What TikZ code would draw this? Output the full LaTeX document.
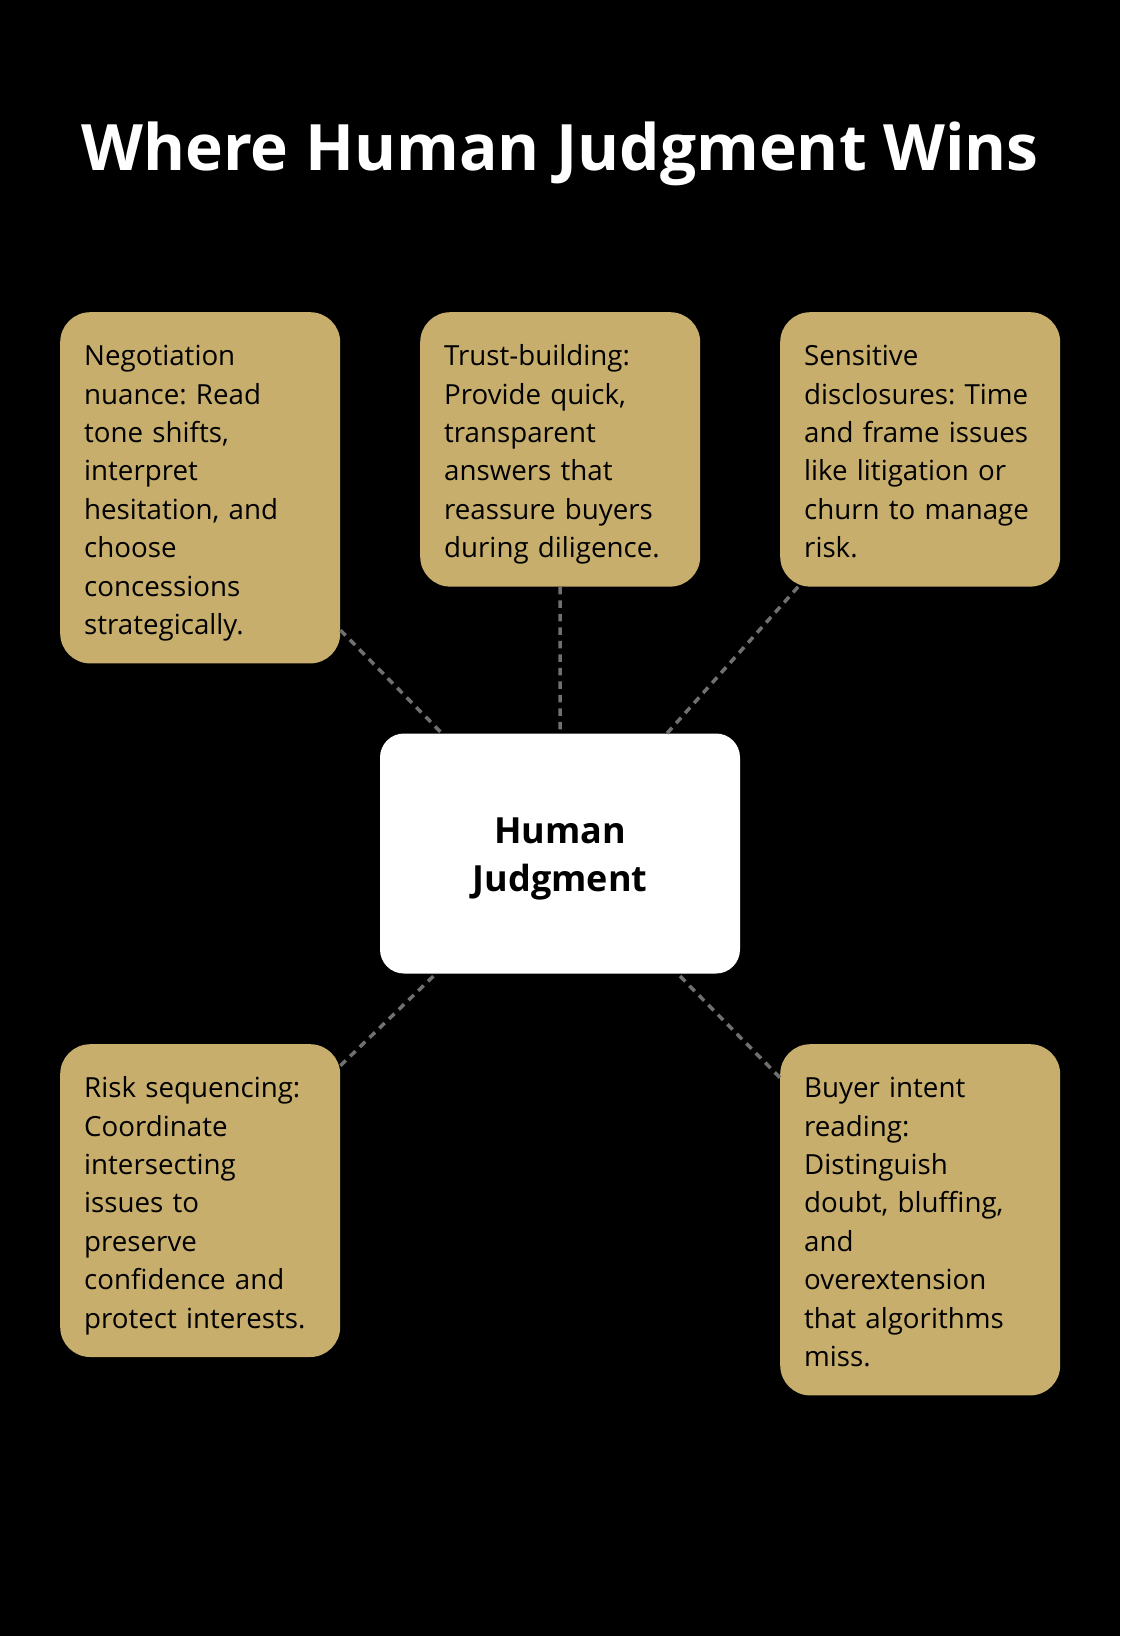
\documentclass[tikz,border=0pt]{standalone}
\usepackage{fontspec}
\setmainfont{Open Sans}
\frenchspacing
\definecolor{gold}{RGB}{199,174,108}
\definecolor{dashgray}{RGB}{112,112,112}
\newcommand\bs{\rule[-7pt]{0pt}{38.4pt}}
\newcommand\hs{\rule[-10pt]{0pt}{48pt}}
\lineskiplimit=-100pt
\lineskip=0pt
\begin{document}
\begin{tikzpicture}[x=1pt,y=-1pt,
  card/.style={fill=gold, rounded corners=30pt, anchor=north west, text width=232pt,
    inner xsep=24pt, inner ysep=22pt, align=left,
    font=\fontsize{27.7pt}{38.4pt}\selectfont, text=black},
  hub/.style={fill=white, rounded corners=24pt, minimum width=360pt, minimum height=240pt,
    align=center, font=\fontsize{36pt}{48pt}\selectfont\bfseries, text=black},
  link/.style={draw=dashgray, line width=3.5pt, dash pattern=on 7.5pt off 6pt}]
\fill[black] (0,0) rectangle (1120,1636);
\useasboundingbox (0,0) rectangle (1120,1636);

\node[font=\fontsize{64pt}{80pt}\selectfont\bfseries, text=white, anchor=base] (title) at (560,170) {Where Human Judgment Wins};

\node[card] (b1) at (60,312) {\bs Negotiation\\\bs nuance: Read\\\bs tone shifts,\\\bs interpret\\\bs hesitation, and\\\bs choose\\\bs concessions\\\bs strategically.};
\node[card] (b2) at (420,312) {\bs Trust-building:\\\bs Provide quick,\\\bs transparent\\\bs answers that\\\bs reassure buyers\\\bs during diligence.};
\node[card] (b3) at (780,312) {\bs Sensitive\\\bs disclosures: Time\\\bs and frame issues\\\bs like litigation or\\\bs churn to manage\\\bs risk.};
\node[card] (b4) at (60,1044) {\bs Risk sequencing:\\\bs Coordinate\\\bs intersecting\\\bs issues to\\\bs preserve\\\bs confidence and\\\bs protect interests.};
\node[card] (b5) at (780,1044) {\bs Buyer intent\\\bs reading:\\\bs Distinguish\\\bs doubt, bluffing,\\\bs and\\\bs overextension\\\bs that algorithms\\\bs miss.};

\node[hub] (hub) at (560,853.5) {\hs Human\\\hs Judgment};

\draw[link] (b1) -- (hub);
\draw[link] (b2) -- (hub);
\draw[link] (b3) -- (hub);
\draw[link] (b4) -- (hub);
\draw[link] (b5) -- (hub);
\end{tikzpicture}
\end{document}
